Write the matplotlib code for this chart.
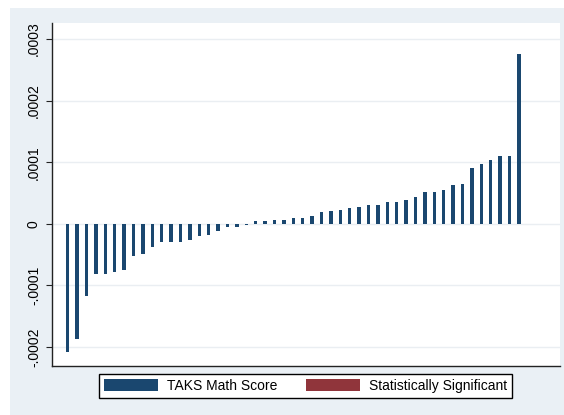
import matplotlib
matplotlib.use("Agg")
import matplotlib.pyplot as plt
from matplotlib.patches import Patch, Rectangle

# ---- data ----
values = [
    -2.078e-4, -1.867e-4, -1.174e-4, -8.07e-5, -8.07e-5, -7.84e-5, -7.52e-5,
    -5.24e-5, -4.87e-5, -3.73e-5, -2.97e-5, -2.97e-5, -2.97e-5, -2.60e-5,
    -2.00e-5, -1.79e-5, -1.09e-5, -4.9e-6, -4.9e-6, -1.1e-6,
    3.9e-6, 4.1e-6, 6.5e-6, 6.5e-6, 9.2e-6, 9.2e-6, 1.35e-5, 1.89e-5, 2.06e-5,
    2.27e-5, 2.49e-5, 2.81e-5, 3.03e-5, 3.03e-5, 3.57e-5, 3.57e-5, 3.79e-5,
    4.33e-5, 5.09e-5, 5.09e-5, 5.47e-5, 6.28e-5, 6.44e-5, 9.09e-5, 9.63e-5,
    1.039e-4, 1.098e-4, 1.098e-4, 2.755e-4,
]
ytick_values = [-0.0002, -0.0001, 0.0, 0.0001, 0.0002, 0.0003]
ytick_labels = ["-.0002", "-.0001", "0", ".0001", ".0002", ".0003"]
legend_labels = ["TAKS Math Score", "Statistically Significant"]

navy = "#1a476f"
maroon = "#90353b"
bg = "#eaf0f5"

plt.rcParams["font.family"] = ["Liberation Sans", "DejaVu Sans"]

W, H = 564, 415
fig = plt.figure(figsize=(W / 100, H / 100), dpi=100)
fig.patch.set_facecolor("white")
fig.patches.append(Rectangle((10 / W, 0), 1 - 10 / W, 1 - 8 / H,
                             transform=fig.transFigure, facecolor=bg,
                             edgecolor="none", zorder=-10))

ax = fig.add_axes([52 / W, 1 - 366 / H, (560 - 52) / W, (366 - 23) / H])
ax.set_facecolor("white")

x = list(range(len(values)))
ax.bar(x, values, width=0.36, color=navy, zorder=3)

ax.set_xlim(-1.67, 52.37)
ax.set_ylim(-0.0002308, 0.000326)
ax.set_yticks(ytick_values)
ax.set_yticklabels(ytick_labels)
ax.set_xticks([])
for lab in ax.get_yticklabels():
    lab.set_rotation(90)
    lab.set_va("center")
ax.tick_params(axis="y", length=4, width=0.8, color="#222222", labelsize=10,
               pad=4, labelcolor="black")
ax.grid(axis="y", color="#eaeef2", linewidth=1.0, zorder=0)
ax.set_axisbelow(True)

for s in ["top", "right"]:
    ax.spines[s].set_visible(False)
for s in ["left", "bottom"]:
    ax.spines[s].set_color("#222222")
    ax.spines[s].set_linewidth(1.0)

handles = [Patch(facecolor=navy, edgecolor="none"),
           Patch(facecolor=maroon, edgecolor="none")]
leg = fig.legend(handles, legend_labels, loc="center",
                 bbox_to_anchor=(305.5 / W, 1 - 385.7 / H), ncol=2,
                 frameon=True, fancybox=False, edgecolor="black",
                 framealpha=1, fontsize=10, handlelength=3.9,
                 handleheight=1.0, handletextpad=0.6, columnspacing=2.1,
                 borderpad=0.35, borderaxespad=0)
leg.get_frame().set_linewidth(1.0)

fig.savefig("out.png", dpi=100, facecolor=fig.get_facecolor())
